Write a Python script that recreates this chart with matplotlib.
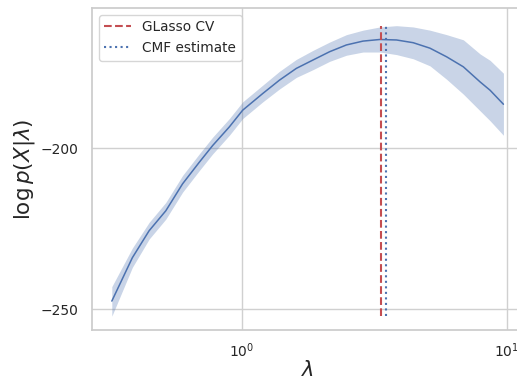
import numpy as np
import matplotlib
matplotlib.use("Agg")
import matplotlib.pyplot as plt
import seaborn as sns

sns.set_theme(style="whitegrid")
plt.rcParams['font.family'] = ['DejaVu Sans']

# lambda grid
lam = [0.322, 0.385, 0.4455, 0.515, 0.596, 0.689, 0.774, 0.895, 1.005, 1.197,
       1.384, 1.602, 1.851, 2.141, 2.477, 2.862, 3.311, 3.831, 4.429, 5.123,
       5.926, 6.849, 7.924, 8.645, 9.707]
# mean log-likelihood
loglik = [-247.5, -234.0, -225.6, -219.4, -211.0, -204.3, -199.1, -193.3, -188.1, -182.9,
          -178.75, -175.1, -172.5, -169.9, -167.8, -166.6, -166.1, -166.25, -167.1, -168.8,
          -171.5, -174.6, -179.3, -181.9, -186.25]
# band upper / lower
upper = [-243.0, -231.0, -223.0, -216.8, -208.4, -201.7, -196.5, -190.7, -185.5, -180.3,
         -176.0, -172.3, -169.5, -166.9, -164.6, -163.2, -162.2, -161.8, -162.2, -163.2,
         -164.6, -166.2, -170.6, -172.6, -176.6]
lower = [-252.2, -237.0, -228.2, -222.0, -213.6, -206.9, -201.7, -195.9, -190.7, -185.5,
         -181.5, -177.9, -175.5, -172.9, -171.0, -170.0, -170.0, -170.8, -172.1, -174.3,
         -178.5, -183.1, -188.3, -191.4, -195.9]

glasso_cv = 3.35
cmf_estimate = 3.51

fig = plt.figure(figsize=(5.17, 3.81), dpi=100)
ax = fig.add_axes([92 / 517, 51 / 381, (523 - 92) / 517, (330 - 8) / 381])

c = "#4c72b0"
ax.fill_between(lam, lower, upper, color=c, alpha=0.3, linewidth=0)
ax.plot(lam, loglik, color=c, linewidth=1.1)

ymin, ymax = min(lower), max(upper)
ax.vlines(glasso_cv, ymin, ymax, colors="#c44e52", linestyles="--", linewidth=1.5, label="GLasso CV")
ax.vlines(cmf_estimate, ymin, ymax, colors="#4c72b0", linestyles=":", linewidth=1.5, label="CMF estimate")

ax.set_xscale("log")
ax.set_xlim(10 ** -0.567, 10 ** 1.061)
ax.set_ylim(-256.5, -156.3)
ax.set_yticks([-250, -200])
ax.grid(True, which="major", color="#d0d0d0")
ax.grid(False, which="minor")
ax.tick_params(labelsize=10)
ax.tick_params(axis="x", pad=2)
for s in ax.spines.values():
    s.set_color("#cccccc")

ax.set_xlabel(r"$\lambda$", fontsize=15, labelpad=0)
ax.set_ylabel(r"$\log p(X|\lambda)$", fontsize=15.5, labelpad=2.5)
ax.legend(loc="upper left", fontsize=9.8)

fig.savefig("out.png", dpi=100)
